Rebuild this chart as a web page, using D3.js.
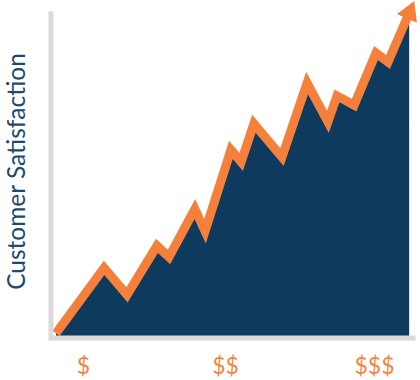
<!DOCTYPE html>
<html>
<head>
<meta charset="utf-8">
<script src="https://cdn.jsdelivr.net/npm/d3@7"></script>
<style>
  body { margin: 0; background: #fff; }
  svg { display: block; }
</style>
</head>
<body>
<div id="chart"></div>
<script>
// price (0-100) vs customer satisfaction (0-100)
const price = [1.5, 14.7, 21.0, 29.2, 32.5, 39.6, 42.4, 49.5, 52.3, 55.8, 63.5, 70.4, 76.1, 78.6, 83.3, 89.3, 92.6, 98.4];
const satisfaction = [2, 21.9, 13.7, 28.6, 25.2, 39.8, 33.1, 57.8, 54.1, 65.7, 55.6, 78.1, 66.3, 74.2, 71.4, 87.2, 84.5, 99.4];

const tickPrices = [8.9, 47.9, 88.75];
const tickLabels = ["$", "$$", "$$$"];

const data = price.map((p, i) => ({ price: p, sat: satisfaction[i] }));

const width = 420, height = 380;

const svg = d3.select("#chart")
    .append("svg")
    .attr("width", width)
    .attr("height", height);

const x = d3.scaleLinear().domain([0, 100]).range([50.5, 415]);
const y = d3.scaleLinear().domain([0, 100]).range([340, 11]);

// arrow head
svg.append("defs").append("marker")
    .attr("id", "arrow")
    .attr("viewBox", "0 -11 19 22")
    .attr("markerUnits", "userSpaceOnUse")
    .attr("markerWidth", 19)
    .attr("markerHeight", 22)
    .attr("refX", 6)
    .attr("refY", 0)
    .attr("orient", "auto")
    .append("path")
    .attr("d", "M0,-11L19,0L0,11Z")
    .attr("fill", "#f4803c");

// the area
const area = d3.area()
    .x(d => x(d.price))
    .y0(y(0))
    .y1(d => y(d.sat));

svg.append("path")
    .datum(data)
    .attr("d", area)
    .attr("fill", "#0d3a5d");

// orange line on top
const line = d3.line()
    .x(d => x(d.price))
    .y(d => y(d.sat));

svg.append("path")
    .datum(data)
    .attr("d", line)
    .attr("fill", "none")
    .attr("stroke", "#f4803c")
    .attr("stroke-width", 9)
    .attr("stroke-linejoin", "miter")
    .attr("marker-end", "url(#arrow)");

// axes
const yAxis = svg.append("g")
    .attr("transform", `translate(${x(0)},0)`)
    .call(d3.axisLeft(y).tickValues([]).tickSize(0));

const xAxis = svg.append("g")
    .attr("transform", `translate(0,${y(0) - 2.5})`)
    .call(d3.axisBottom(x)
        .tickValues(tickPrices)
        .tickFormat((d, i) => tickLabels[i])
        .tickSize(0)
        .tickPadding(20));

svg.selectAll(".domain")
    .attr("stroke", "#dadada")
    .attr("stroke-width", 5);

xAxis.selectAll("text")
    .attr("fill", "#f5843f")
    .style("font-family", "Lato, sans-serif")
    .style("font-size", "23px");

// axis title
svg.append("text")
    .attr("transform", `translate(25,${(y(0) + y(100)) / 2 - 4}) rotate(-90)`)
    .attr("text-anchor", "middle")
    .attr("fill", "#1c4a70")
    .style("font-family", "Lato, sans-serif")
    .style("font-size", "24.5px")
    .text("Customer Satisfaction");
</script>
</body>
</html>
